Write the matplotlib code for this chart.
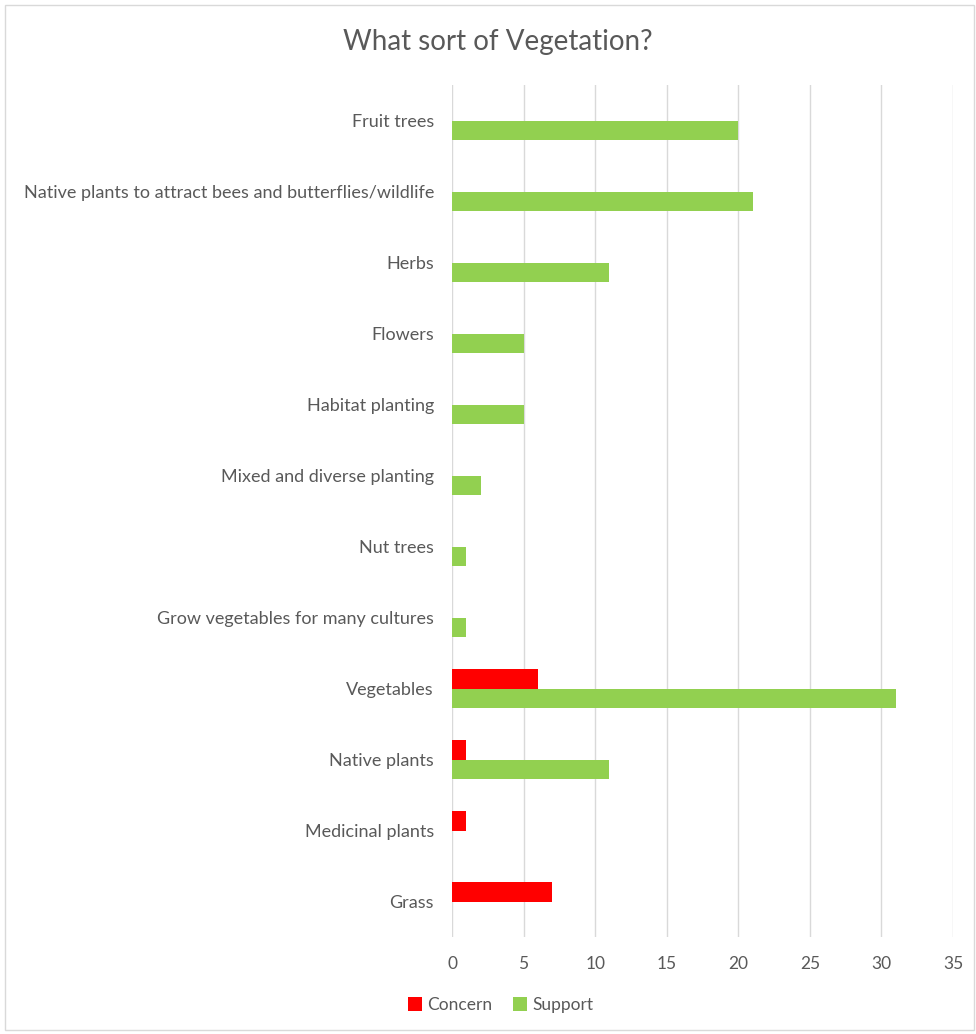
import matplotlib
matplotlib.use("Agg")
import matplotlib.pyplot as plt
from matplotlib.patches import Rectangle
import numpy as np

categories = [
    "Fruit trees",
    "Native plants to attract bees and butterflies/wildlife",
    "Herbs",
    "Flowers",
    "Habitat planting",
    "Mixed and diverse planting",
    "Nut trees",
    "Grow vegetables for many cultures",
    "Vegetables",
    "Native plants",
    "Medicinal plants",
    "Grass",
]
concern = [0, 0, 0, 0, 0, 0, 0, 0, 6, 1, 1, 7]
support = [20, 21, 11, 5, 5, 2, 1, 1, 31, 11, 0, 0]
xticks = [0, 5, 10, 15, 20, 25, 30, 35]

RED = "#ff0000"
GREEN = "#92d050"
TEXT = "#595959"
GRID = "#d9d9d9"

plt.rcParams["font.family"] = ["Lato", "DejaVu Sans"]

W, H = 976, 1034
fig = plt.figure(figsize=(W / 100, H / 100), dpi=100)
fig.patches.append(Rectangle((5 / W, 4 / H), (W - 7) / W, (H - 9) / H,
                             transform=fig.transFigure, fill=False,
                             edgecolor=GRID, linewidth=1))

ax = fig.add_axes([452 / W, 1 - 937 / H, (953 - 452) / W, (937 - 85) / H])

pos = np.arange(len(categories))
h = 0.268
ax.barh(pos - h / 2, concern, height=h, color=RED, label="Concern")
ax.barh(pos + h / 2, support, height=h, color=GREEN, label="Support")

ax.set_ylim(len(categories) - 0.5, -0.5)
ax.set_xlim(0, 35)
ax.set_xticks(xticks)
ax.set_yticks(pos)
ax.set_yticklabels(categories)
ax.tick_params(axis="y", length=0, pad=13, labelsize=13, labelcolor=TEXT)
ax.tick_params(axis="x", length=0, pad=14, labelsize=12.5, labelcolor=TEXT)
ax.grid(axis="x", color=GRID, linewidth=1)
ax.set_axisbelow(True)
for s in ax.spines.values():
    s.set_visible(False)

fig.text(498 / W, 1 - 42 / H, "What sort of Vegetation?", ha="center", va="center",
         fontsize=20, color=TEXT)

ax.legend(loc="center", bbox_to_anchor=(501 / W, 1 - 1005 / H),
          bbox_transform=fig.transFigure, ncol=2, frameon=False,
          fontsize=12.5, labelcolor=TEXT, handlelength=0.8, handleheight=0.8,
          handletextpad=0.3, columnspacing=1.2)

fig.savefig("out.png", dpi=100)
